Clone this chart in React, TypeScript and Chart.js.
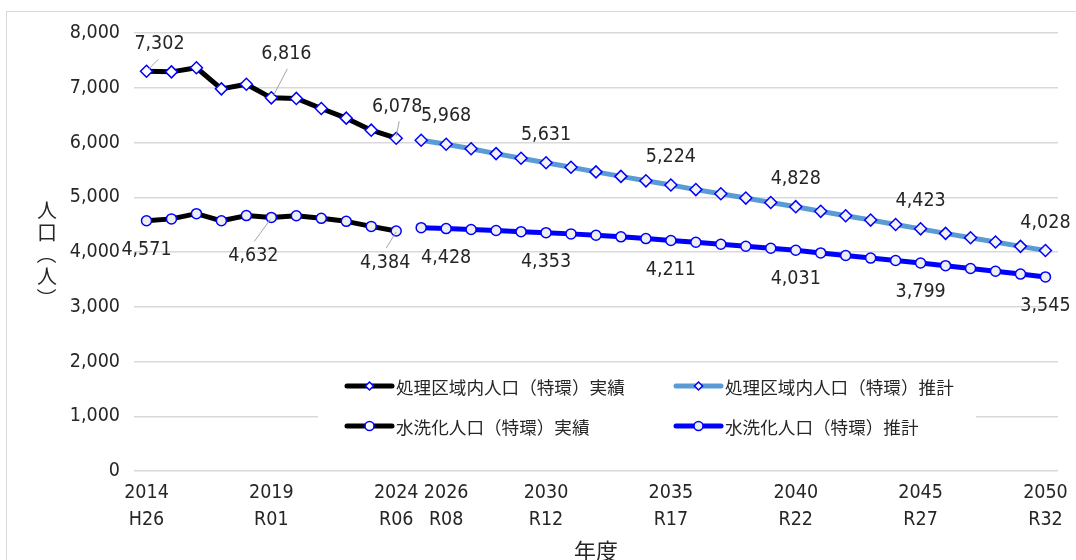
import React, { useEffect, useRef } from "react";
import { Chart, registerables } from "chart.js";

Chart.register(...registerables);

// Fiscal years on the category axis
const years = [
  2014, 2015, 2016, 2017, 2018, 2019, 2020, 2021, 2022, 2023, 2024, 2025,
  2026, 2027, 2028, 2029, 2030, 2031, 2032, 2033, 2034, 2035, 2036, 2037,
  2038, 2039, 2040, 2041, 2042, 2043, 2044, 2045, 2046, 2047, 2048, 2049,
  2050,
];

// Years that carry an axis label, with their Japanese era name
const tickYears = [2014, 2019, 2024, 2026, 2030, 2035, 2040, 2045, 2050];
const tickEras = ["H26", "R01", "R06", "R08", "R12", "R17", "R22", "R27", "R32"];

// Actual results, 2014–2024
const actualYears = [2014, 2015, 2016, 2017, 2018, 2019, 2020, 2021, 2022, 2023, 2024];
const treatedActual = [7302, 7290, 7365, 6980, 7065, 6816, 6805, 6620, 6445, 6225, 6078];
const flushActual = [4571, 4605, 4700, 4570, 4665, 4632, 4662, 4615, 4560, 4468, 4384];

// Projections, 2025–2050
const projectedYears = [
  2025, 2026, 2027, 2028, 2029, 2030, 2031, 2032, 2033, 2034, 2035, 2036, 2037,
  2038, 2039, 2040, 2041, 2042, 2043, 2044, 2045, 2046, 2047, 2048, 2049, 2050,
];
const treatedProjected = [
  6040, 5968, 5885, 5797, 5712, 5631, 5547, 5463, 5381, 5300, 5224, 5140, 5064,
  4985, 4905, 4828, 4743, 4662, 4583, 4503, 4423, 4340, 4261, 4182, 4103, 4028,
];
const flushProjected = [
  4445, 4428, 4410, 4392, 4372, 4353, 4331, 4306, 4277, 4245, 4211, 4178, 4142,
  4104, 4068, 4031, 3983, 3935, 3889, 3844, 3799, 3750, 3699, 3648, 3597, 3545,
];

// Years whose value is written next to the point
const actualLabelYears = [2014, 2019, 2024];
const projectedLabelYears = [2026, 2030, 2035, 2040, 2045, 2050];

const seriesNames = [
  "処理区域内人口（特環）実績",
  "処理区域内人口（特環）推計",
  "水洗化人口（特環）実績",
  "水洗化人口（特環）推計",
];

const yTicks = [0, 1000, 2000, 3000, 4000, 5000, 6000, 7000, 8000];

const NUM_FONT = "'Liberation Sans Narrow', 'Arial Narrow', 'DejaVu Sans Condensed', sans-serif";
const JP_FONT = "'Noto Sans CJK JP', 'Noto Sans CJK SC', sans-serif";
const TEXT = "#262626";
const GRID = "#d9d9d9";
const MARK_BLUE = "#0000ff";
const TREATED_PROJ = "#5b9bd5";

function alignTo(srcYears: number[], values: number[]): (number | null)[] {
  return years.map((y) => {
    const i = srcYears.indexOf(y);
    return i >= 0 ? values[i] : null;
  });
}

const fmt = (v: number) => v.toLocaleString("en-US");

// Label placement (offsets from the point, in pixels) and optional leader line
type LabelStyle = { dx: number; dy: number; leader?: [number, number, number, number] };
const actualTreatedLabelStyle: Record<number, LabelStyle> = {
  2014: { dx: 13, dy: -27, leader: [2, -2, 12, -12] },
  2019: { dx: 15, dy: -44, leader: [2, -2, 16, -29] },
  2024: { dx: 1, dy: -31, leader: [0, -2, 3, -17] },
};
const actualFlushLabelStyle: Record<number, LabelStyle> = {
  2014: { dx: 0, dy: 29 },
  2019: { dx: -18, dy: 39, leader: [-1, 2, -17, 24] },
  2024: { dx: -11, dy: 32, leader: [0, 1, -10, 17] },
};
const projectedTreatedLabelStyle: LabelStyle = { dx: 0, dy: -28 };
const projectedFlushLabelStyle: LabelStyle = { dx: 0, dy: 29 };

const valueLabelsPlugin = {
  id: "valueLabels",
  afterDatasetsDraw(chart: any) {
    const ctx = chart.ctx;
    const xs = chart.scales.x;
    const ys = chart.scales.y;
    const groups: { data: (number | null)[]; labelYears: number[]; style: (y: number) => LabelStyle }[] = [
      { data: chart.data.datasets[0].data, labelYears: actualLabelYears, style: (y) => actualTreatedLabelStyle[y] },
      { data: chart.data.datasets[1].data, labelYears: projectedLabelYears, style: () => projectedTreatedLabelStyle },
      { data: chart.data.datasets[2].data, labelYears: actualLabelYears, style: (y) => actualFlushLabelStyle[y] },
      { data: chart.data.datasets[3].data, labelYears: projectedLabelYears, style: () => projectedFlushLabelStyle },
    ];
    ctx.save();
    ctx.font = `19.5px ${NUM_FONT}`;
    ctx.textAlign = "center";
    ctx.textBaseline = "middle";
    for (const g of groups) {
      for (const yr of g.labelYears) {
        const idx = years.indexOf(yr);
        const v = g.data[idx];
        if (v == null) continue;
        const px = xs.getPixelForValue(idx);
        const py = ys.getPixelForValue(v);
        const s = g.style(yr);
        if (s.leader) {
          const [x1, y1, x2, y2] = s.leader;
          ctx.strokeStyle = "#a6a6a6";
          ctx.lineWidth = 1;
          ctx.beginPath();
          ctx.moveTo(px + x1, py + y1);
          ctx.lineTo(px + x2, py + y2);
          ctx.stroke();
        }
        ctx.fillStyle = TEXT;
        ctx.fillText(fmt(v), px + s.dx, py + s.dy);
      }
    }
    ctx.restore();
  },
};

// Legend box laid out in two rows and two columns inside the plot
const legendBox = { x: 318, y: 364, w: 658, h: 92 };
const legendRows = [386, 426];
const legendCols = [347, 676];
const legendItems = [
  { name: seriesNames[0], color: "#000000", shape: "diamond", fill: "#ffffff", col: 0, row: 0 },
  { name: seriesNames[1], color: TREATED_PROJ, shape: "diamond", fill: "#ffffff", col: 1, row: 0 },
  { name: seriesNames[2], color: "#000000", shape: "circle", fill: "#ffffff", col: 0, row: 1 },
  { name: seriesNames[3], color: MARK_BLUE, shape: "circle", fill: "#eeeeee", col: 1, row: 1 },
];

const legendPlugin = {
  id: "gridLegend",
  afterDraw(chart: any) {
    const ctx = chart.ctx;
    ctx.save();
    ctx.fillStyle = "#ffffff";
    ctx.fillRect(legendBox.x, legendBox.y, legendBox.w, legendBox.h);
    for (const it of legendItems) {
      const x0 = legendCols[it.col];
      const y0 = legendRows[it.row];
      ctx.strokeStyle = it.color;
      ctx.lineWidth = 5;
      ctx.lineCap = "round";
      ctx.beginPath();
      ctx.moveTo(x0, y0);
      ctx.lineTo(x0 + 45, y0);
      ctx.stroke();
      const mx = x0 + 22.5;
      ctx.fillStyle = it.fill;
      ctx.strokeStyle = MARK_BLUE;
      ctx.lineWidth = 1.5;
      ctx.beginPath();
      if (it.shape === "diamond") {
        const r = 4;
        ctx.moveTo(mx, y0 - r);
        ctx.lineTo(mx + r, y0);
        ctx.lineTo(mx, y0 + r);
        ctx.lineTo(mx - r, y0);
        ctx.closePath();
      } else {
        ctx.arc(mx, y0, 4.5, 0, Math.PI * 2);
      }
      ctx.fill();
      ctx.stroke();
      ctx.fillStyle = TEXT;
      ctx.font = `17.6px ${JP_FONT}`;
      ctx.textAlign = "left";
      ctx.textBaseline = "middle";
      ctx.fillText(it.name, x0 + 49, y0 + 1);
    }
    ctx.restore();
  },
};

// Frame, vertical y-axis title and x-axis title
const decorPlugin = {
  id: "decor",
  beforeDraw(chart: any) {
    const ctx = chart.ctx;
    ctx.save();
    ctx.fillStyle = "#ffffff";
    ctx.fillRect(0, 0, chart.width, chart.height);
    ctx.strokeStyle = GRID;
    ctx.lineWidth = 1;
    ctx.strokeRect(6.5, 11.5, chart.width + 20, chart.height + 20);
    ctx.restore();
  },
  afterDraw(chart: any) {
    const ctx = chart.ctx;
    ctx.save();
    ctx.fillStyle = TEXT;
    ctx.font = `20px ${JP_FONT}`;
    ctx.textAlign = "center";
    ctx.textBaseline = "middle";
    const title = "人口（人）";
    const cx = 47;
    let cy = 210;
    for (const ch of Array.from(title)) {
      if (ch === "（" || ch === "）") {
        ctx.save();
        ctx.translate(cx, cy);
        ctx.rotate(Math.PI / 2);
        ctx.fillText(ch, 0, 0);
        ctx.restore();
      } else {
        ctx.fillText(ch, cx, cy);
      }
      cy += 22;
    }
    ctx.font = `22px ${JP_FONT}`;
    const area = chart.chartArea;
    ctx.fillText("年度", (area.left + area.right) / 2, 551);
    ctx.restore();
  },
};

export default function App() {
  const canvasRef = useRef<HTMLCanvasElement | null>(null);

  useEffect(() => {
    if (!canvasRef.current) return;
    const pointBase = { pointBorderColor: MARK_BLUE, pointBorderWidth: 1.5, pointHoverRadius: 6 };
    const chart = new Chart(canvasRef.current, {
      type: "line",
      data: {
        labels: years.map(String),
        datasets: [
          {
            label: seriesNames[0],
            data: alignTo(actualYears, treatedActual),
            borderColor: "#000000",
            borderWidth: 5,
            pointStyle: "rectRot",
            pointRadius: 6,
            pointBackgroundColor: "#ffffff",
            ...pointBase,
          },
          {
            label: seriesNames[1],
            data: alignTo(projectedYears, treatedProjected),
            borderColor: TREATED_PROJ,
            borderWidth: 5,
            pointStyle: "rectRot",
            pointRadius: 6,
            pointBackgroundColor: "#f2f2f2",
            ...pointBase,
          },
          {
            label: seriesNames[2],
            data: alignTo(actualYears, flushActual),
            borderColor: "#000000",
            borderWidth: 5,
            pointStyle: "circle",
            pointRadius: 5,
            pointBackgroundColor: "#eeeeee",
            ...pointBase,
          },
          {
            label: seriesNames[3],
            data: alignTo(projectedYears, flushProjected),
            borderColor: MARK_BLUE,
            borderWidth: 5,
            pointStyle: "circle",
            pointRadius: 5,
            pointBackgroundColor: "#eeeeee",
            ...pointBase,
          },
        ].map((d) => ({ ...d, borderJoinStyle: "round" as const, borderCapStyle: "round" as const, tension: 0, spanGaps: false })),
      },
      options: {
        animation: false,
        responsive: false,
        devicePixelRatio: 1,
        layout: { padding: { top: 33, right: 17, bottom: 0, left: 0 } },
        plugins: {
          legend: { display: false },
          tooltip: { enabled: false },
          title: { display: false },
        },
        scales: {
          x: {
            type: "category",
            offset: true,
            grid: { display: false, drawTicks: false },
            border: { display: false },
            ticks: {
              autoSkip: false,
              maxRotation: 0,
              minRotation: 0,
              padding: 8,
              color: TEXT,
              font: { family: NUM_FONT, size: 19.5, lineHeight: "27px" },
              callback: (_v: any, index: number) => {
                const k = tickYears.indexOf(years[index]);
                return k >= 0 ? [String(tickYears[k]), tickEras[k]] : null;
              },
            },
            afterFit: (scale: any) => {
              scale.height = 89;
            },
          },
          y: {
            min: 0,
            max: 8000,
            grid: { color: GRID, lineWidth: 1.5, drawTicks: false },
            border: { display: false },
            afterBuildTicks: (scale: any) => {
              scale.ticks = yTicks.map((v) => ({ value: v }));
            },
            ticks: {
              padding: 14,
              color: TEXT,
              font: { family: NUM_FONT, size: 19.5 },
              callback: (v: any) => fmt(Number(v)),
            },
            afterFit: (scale: any) => {
              scale.width = 134;
            },
          },
        },
      },
      plugins: [decorPlugin, valueLabelsPlugin, legendPlugin],
    });
    return () => chart.destroy();
  }, []);

  return (
    <div style={{ position: "absolute", left: 0, top: 0, width: 1076, height: 560, overflow: "hidden" }}>
      <canvas ref={canvasRef} width={1076} height={560} style={{ display: "block", width: 1076, height: 560 }} />
    </div>
  );
}
